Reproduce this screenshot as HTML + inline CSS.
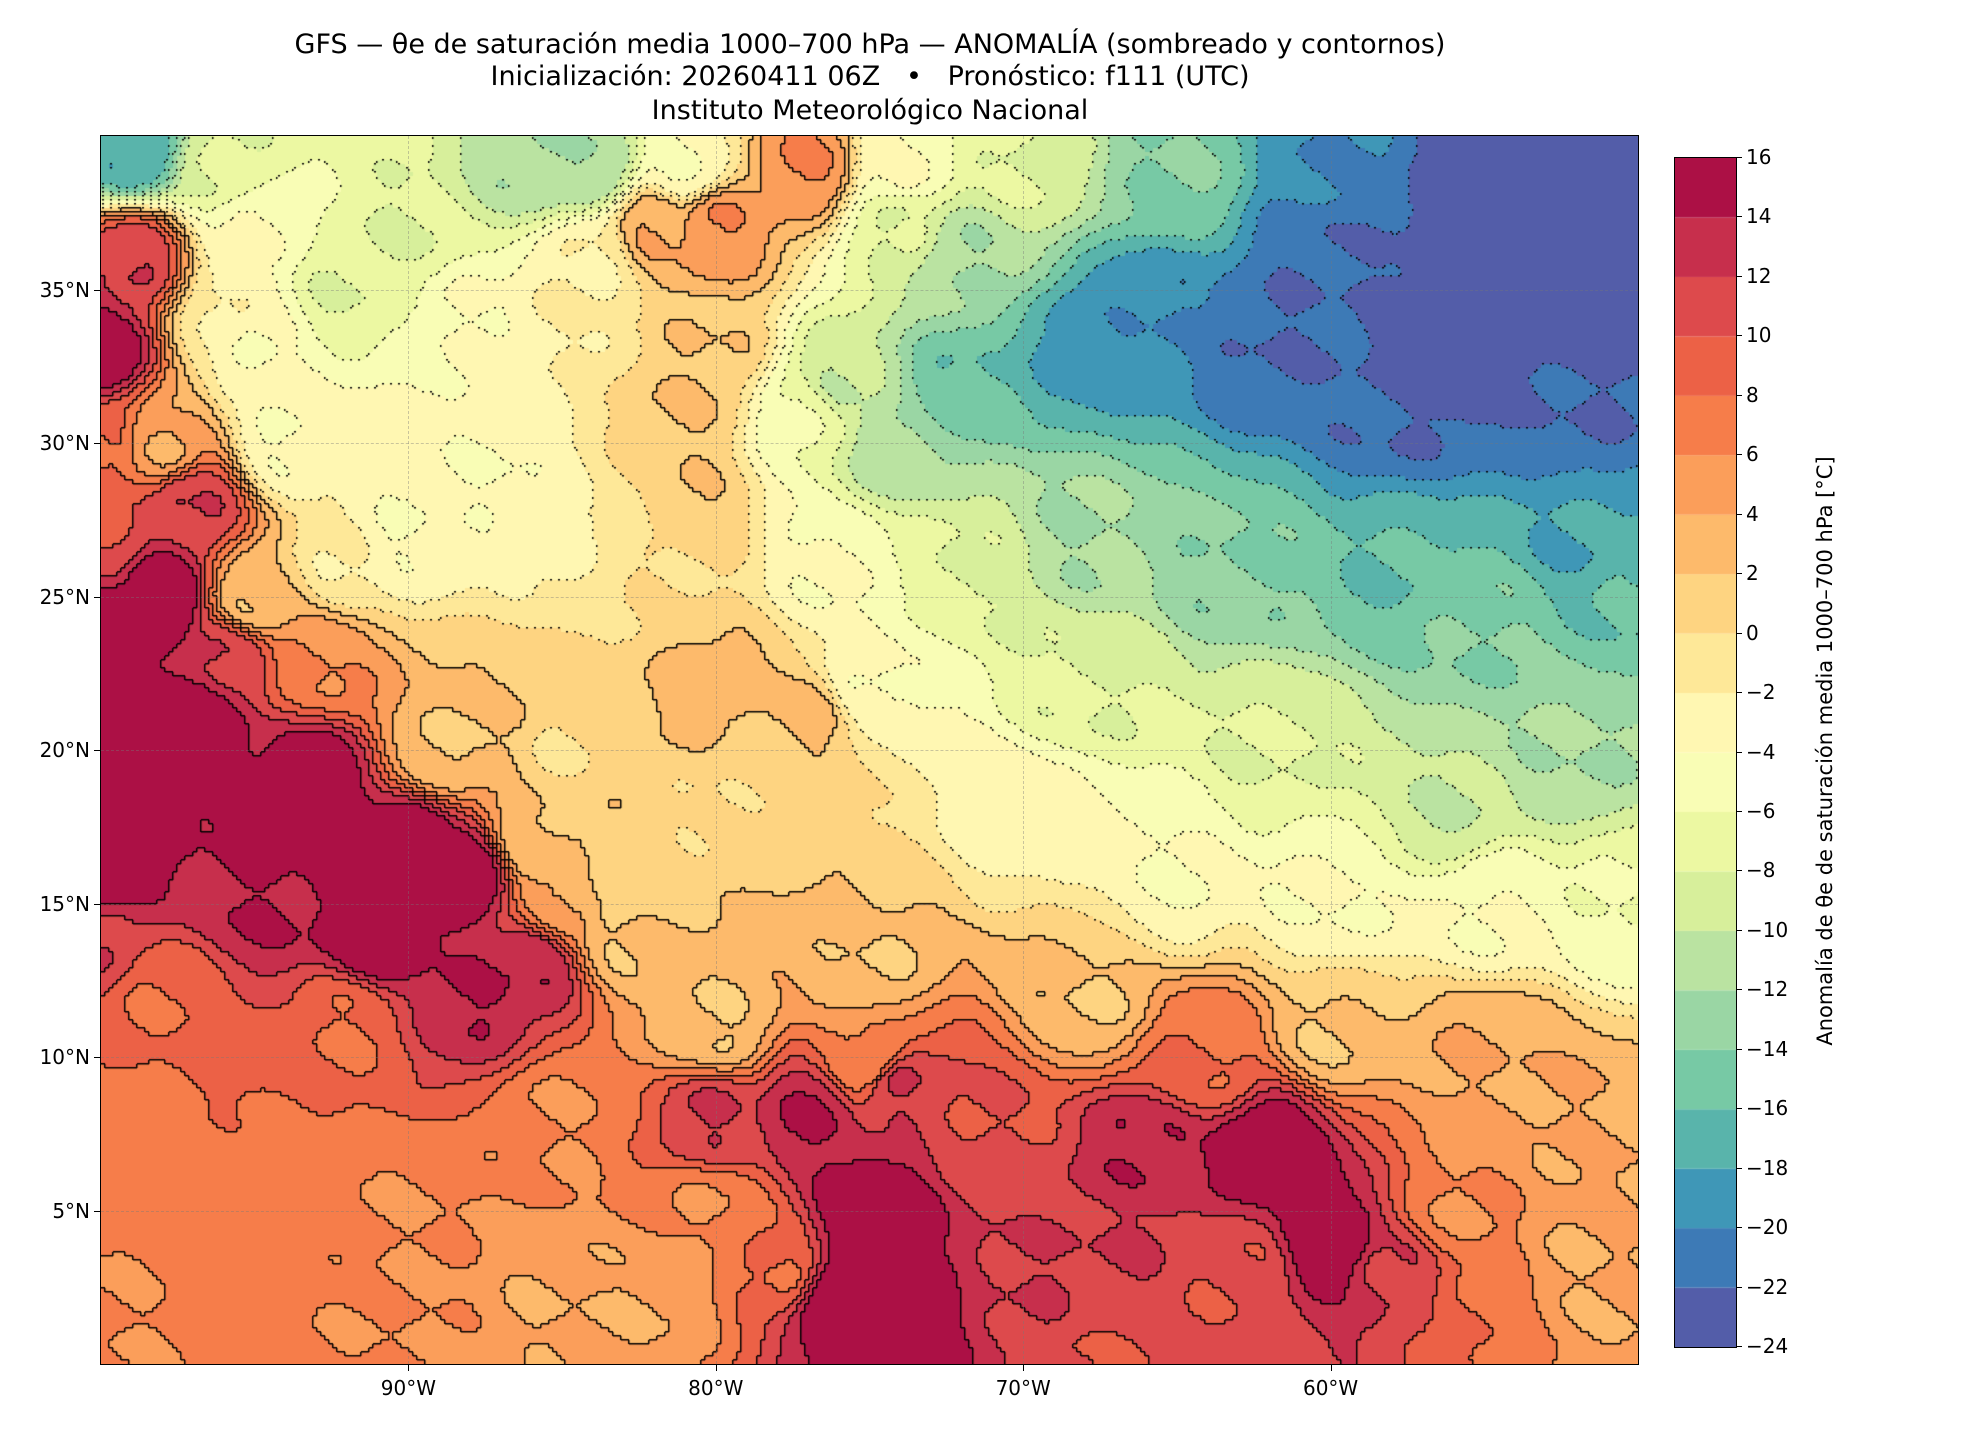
<!DOCTYPE html>
<html><head><meta charset="utf-8"><style>
body{margin:0;background:#fff;width:1980px;height:1440px;overflow:hidden;font-family:"DejaVu Sans","Liberation Sans",sans-serif;position:relative}
.t{position:absolute;left:0;width:1740px;text-align:center;font-size:27px;color:#000}
.yl{position:absolute;font-size:20px;right:1890px;text-align:right}
.xl{position:absolute;font-size:20px;top:1376px;width:100px;margin-left:-50px;text-align:center}
.cl{position:absolute;left:1746px;font-size:20px}
</style></head><body>
<div class="t" style="top:29px">GFS — θe de saturación media 1000–700 hPa — ANOMALÍA (sombreado y contornos)</div>
<div class="t" style="top:61px">Inicialización: 20260411 06Z &nbsp; • &nbsp; Pronóstico: f111 (UTC)</div>
<div class="t" style="top:95px">Instituto Meteorológico Nacional</div>
<canvas id="c" width="1537" height="1228" style="position:absolute;left:101px;top:136px"></canvas>
<div style="position:absolute;left:100px;top:135px;width:1537px;height:1228px;border:1.5px solid #000"></div>
<canvas id="cb" width="61" height="1189" style="position:absolute;left:1674px;top:157px;border:1px solid #000"></canvas>
<div id="lab"></div>
<div style="position:absolute;left:1825px;top:751px;transform:translate(-50%,-50%) rotate(-90deg);font-size:21px;white-space:nowrap">Anomalía de θe de saturación media 1000–700 hPa [°C]</div>
<script>
var S=[[0,'#9e0142'],[.1,'#d53e4f'],[.2,'#f46d43'],[.3,'#fdae61'],[.4,'#fee08b'],[.5,'#ffffbf'],[.6,'#e6f598'],[.7,'#abdda4'],[.8,'#66c2a5'],[.9,'#3288bd'],[1,'#5e4fa2']];
function hx(h){return[parseInt(h.substr(1,2),16),parseInt(h.substr(3,2),16),parseInt(h.substr(5,2),16)]}
function sp(t){for(var i=0;i<10;i++){if(t<=S[i+1][0]){var f=(t-S[i][0])/.1,a=hx(S[i][1]),b=hx(S[i+1][1]);return[0,1,2].map(k=>Math.round(a[k]+(b[k]-a[k])*f))}}return hx(S[10][1])}
var cols=[];for(var i=0;i<20;i++){cols.push(sp(1-(i+0.5)/20))}
var P=[
[-52,35,-24],[-55,38,-24],[-52,39,-24],[-56,33,-24],[-52,31,-22],[-58,31,-22],[-60,36,-22],[-62,33,-22],[-60,39,-20],[-66,34,-20],[-68,33,-19],[-65,39,-14],[-70,39,-8],[-72,32,-16],[-74,30,-12],[-76,32,-10],[-77,31,-6],[-72,36,-12],[-74,37,-8],
[-68,27,-12],[-63,26,-14],[-58,26,-16],[-52,27,-18],[-50,25,-16],[-52,20,-12],[-56,18,-10],[-55,24,-14],[-68,22,-8],[-62,20,-8],[-75,22,-4],[-72,26,-8],[-76,26,-4],[-60,15,-4],[-55,15,-4],[-65,16,-4],[-70,18,-3],[-50,15,-6],
[-90,27,-4],[-87,29,-4],[-92,26,-2],[-95,25,2],[-93,23,6],[-96,23,12],[-98,25,16],[-97,28,12],[-94,30,-4],[-85,27,-3],[-83,27,-1],[-81,28,2],[-81,31,2],[-82,26,0],
[-80,18,0],[-83,14,2],[-80,11,2],[-75,13,2],[-68,12,2],[-60,11,2],[-55,10,4],[-52,8,4],[-52,3,4],[-55,2,8],[-78,20,1],[-80,22,3],[-77,21,3],[-85,20,0],
[-75,10,6],[-74,9,12],[-77,8,14],[-75,5,16],[-76,2,16],[-74,1,16],[-70,2,12],[-67,4,12],[-66,7,14],[-62,7,16],[-60,4,16],[-58,3,12],[-63,3,10],[-68,0,10],[-80,8,12],[-80,5,6],[-78,3,8],[-71,8,10],[-64,10,8],[-56,5,6],[-50,2,4],
[-88,12,14],[-91,14,16],[-95,15,14],[-100,16,16],[-100,14,12],[-98,12,8],[-92,11,8],[-85,8,6],[-90,5,6],[-95,5,7],[-100,7,7],[-85,2,4],[-90,1,6],[-82,2,4],[-100,2,6],
[-97,21,16],[-99,20,16],[-93,19,16],[-88,16,16],[-90,17,16],[-86,13,14],[-89,20,2],[-87,21,2],[-85,15,4],[-83,16,1],[-86,17,2],[-100,24,16],[-100,27,10],
[-95,37,-4],[-99,36,12],[-100,33,16],[-100,30,8],[-98,30,4],[-96,34,-2],[-95,33,-4],[-92,35,-8],[-90,37,-8],[-86,39,-12],[-96,39,-8],[-99,39.5,-18],[-88,34,-4],[-85,34,-2],[-84,36,-2],[-82,37,4],[-80,37,6],[-77,39,6],[-74,39,-4],[-80,33,2],[-81,39,-4],[-84,39,-12]];
function f(lo,la){var s=0,w=0;for(var p of P){var d=(lo-p[0])*(lo-p[0])+(la-p[1])*(la-p[1]);if(d<1e-4)return p[2];var q=1/(d*d);s+=q*p[2];w+=q}return s/w}
var c=document.getElementById('c').getContext('2d'),W=1537,H=1228,st=4,nx=Math.ceil(W/st),ny=Math.ceil(H/st),L=[];
for(var j=0;j<ny;j++){L.push([]);for(var i=0;i<nx;i++){var lo=-100+(i+.5)*st/W*50,la=40-(j+.5)*st/H*40;var v=f(lo,la)+0.6*Math.sin(lo*1.3+la*1.7)*Math.cos(la*1.1-lo*.7);var k=Math.floor((v+24)/2);k=Math.max(0,Math.min(19,k));L[j].push(k);var cc=cols[k];c.fillStyle='rgb('+cc+')';c.fillRect(i*st,j*st,st,st)}}
c.fillStyle='#000';
for(var j=0;j<ny;j++)for(var i=0;i<nx;i++){var k=L[j][i];
if(i+1<nx&&L[j][i+1]!=k){var neg=Math.max(k,L[j][i+1])<=12;if(!neg)c.fillRect(i*st+st-1,j*st,1.5,st);else if(j%2==0)c.fillRect(i*st+st-1,j*st+1,1.5,2);}
if(j+1<ny&&L[j+1][i]!=k){var neg=Math.max(k,L[j+1][i])<=12;if(!neg)c.fillRect(i*st,j*st+st-1,st,1.5);else if(i%2==0)c.fillRect(i*st+1,j*st+st-1,2,1.5);}}
var b=document.getElementById('cb').getContext('2d');for(var i=0;i<20;i++){b.fillStyle='rgb('+cols[i]+')';b.fillRect(0,1189-(i+1)*59.45,61,59.5)}
var h='';for(var i=0;i<=20;i++){var y=1346-i*59.45;h+='<div class="cl" style="top:'+(y-12)+'px">'+String(-24+2*i).replace('-','\u2212')+'</div><div style="position:absolute;left:1736px;top:'+y+'px;width:6px;height:1px;background:#000"></div>'}
var la=[35,30,25,20,15,10,5];la.forEach(function(v){var y=136+(40-v)/40*1228;h+='<div class="yl" style="top:'+(y-12)+'px">'+v+'°N</div><div style="position:absolute;left:101px;top:'+y+'px;width:1537px;border-top:1px dashed rgba(120,120,120,.4)"></div><div style="position:absolute;left:94px;top:'+y+'px;width:7px;height:1px;background:#000"></div>'});
[90,80,70,60].forEach(function(v){var x=101+(100-v)/50*1537;h+='<div class="xl" style="left:'+x+'px">'+v+'°W</div><div style="position:absolute;top:136px;left:'+x+'px;height:1228px;border-left:1px dashed rgba(120,120,120,.4)"></div><div style="position:absolute;top:1364px;left:'+x+'px;height:7px;width:1px;background:#000"></div>'});
document.getElementById('lab').innerHTML=h;
</script>
</body></html>
